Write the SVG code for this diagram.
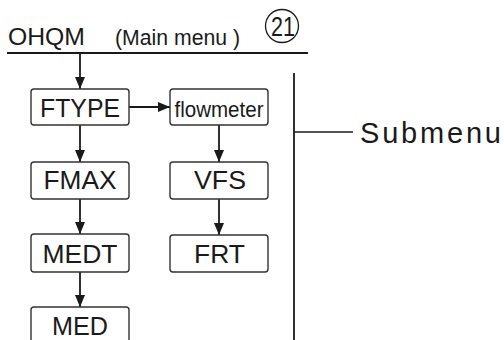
<svg xmlns="http://www.w3.org/2000/svg" width="504" height="340" viewBox="0 0 504 340">
<defs>
<marker id="ah" viewBox="0 0 12 10" refX="12" refY="5" markerWidth="12" markerHeight="10" markerUnits="userSpaceOnUse" orient="auto">
<path d="M0,0 L12,5 L0,10 Z" fill="#1a1a1a"/>
</marker>
<style>
.box{fill:#fff;stroke:#333;stroke-width:1.4}
.t{font-family:"Liberation Sans",Arial,sans-serif;fill:#1a1a1a;text-anchor:middle}
.c{stroke:#1a1a1a;stroke-width:1.8;fill:none}
</style>
</defs>
<rect width="504" height="340" fill="#fff"/>
<g id="title">
<text x="8" y="45" font-family="Liberation Sans,Arial,sans-serif" font-size="24" fill="#1a1a1a" textLength="77" lengthAdjust="spacingAndGlyphs">OHQM</text>
<text x="115" y="45" font-family="Liberation Sans,Arial,sans-serif" font-size="22" fill="#1a1a1a" textLength="125" lengthAdjust="spacingAndGlyphs">(Main menu )</text>
<circle cx="282" cy="26" r="16.5" fill="none" stroke="#1a1a1a" stroke-width="1.3"/>
<text class="t" x="283" y="36" font-size="28" textLength="24" lengthAdjust="spacingAndGlyphs">21</text>
<line x1="7" y1="53" x2="308" y2="53" stroke="#1a1a1a" stroke-width="2"/>
</g>
<g id="connectors">
<line class="c" x1="80" y1="53" x2="80" y2="89" marker-end="url(#ah)"/>
<line class="c" x1="129" y1="107" x2="170" y2="107" marker-end="url(#ah)"/>
<line class="c" x1="80" y1="125" x2="80" y2="162" marker-end="url(#ah)"/>
<line class="c" x1="219" y1="125" x2="219" y2="162" marker-end="url(#ah)"/>
<line class="c" x1="80" y1="199" x2="80" y2="234" marker-end="url(#ah)"/>
<line class="c" x1="219" y1="199" x2="219" y2="235" marker-end="url(#ah)"/>
<line class="c" x1="80" y1="272" x2="80" y2="307" marker-end="url(#ah)"/>
</g>
<g id="ftype"><rect class="box" x="31" y="89" width="98" height="36" rx="3"/><text class="t" x="80" y="117" font-size="25" textLength="80" lengthAdjust="spacingAndGlyphs">FTYPE</text></g>
<g id="flowmeter"><rect class="box" x="170" y="89" width="98" height="36" rx="3"/><text class="t" x="219" y="117" font-size="22" textLength="89" lengthAdjust="spacingAndGlyphs">flowmeter</text></g>
<g id="fmax"><rect class="box" x="31" y="162" width="98" height="37" rx="3"/><text class="t" x="80" y="189" font-size="25" textLength="73" lengthAdjust="spacingAndGlyphs">FMAX</text></g>
<g id="vfs"><rect class="box" x="170" y="162" width="98" height="37" rx="3"/><text class="t" x="220" y="189" font-size="25" textLength="52" lengthAdjust="spacingAndGlyphs">VFS</text></g>
<g id="medt"><rect class="box" x="31" y="234" width="98" height="38" rx="3"/><text class="t" x="80" y="263" font-size="25" textLength="75" lengthAdjust="spacingAndGlyphs">MEDT</text></g>
<g id="frt"><rect class="box" x="170" y="235" width="98" height="37" rx="3"/><text class="t" x="219.5" y="263" font-size="25" textLength="51" lengthAdjust="spacingAndGlyphs">FRT</text></g>
<g id="med"><rect class="box" x="31" y="307" width="98" height="40" rx="3"/><text class="t" x="80" y="335" font-size="25" textLength="56" lengthAdjust="spacingAndGlyphs">MED</text></g>
<g id="submenu">
<line x1="294" y1="73" x2="294" y2="340" stroke="#1a1a1a" stroke-width="1.8"/>
<line x1="294" y1="132" x2="353" y2="132" stroke="#1a1a1a" stroke-width="1.3"/>
<text x="360" y="143" font-family="Liberation Sans,Arial,sans-serif" font-size="29" fill="#1a1a1a" textLength="141" lengthAdjust="spacing">Submenu</text>
</g>
</svg>
